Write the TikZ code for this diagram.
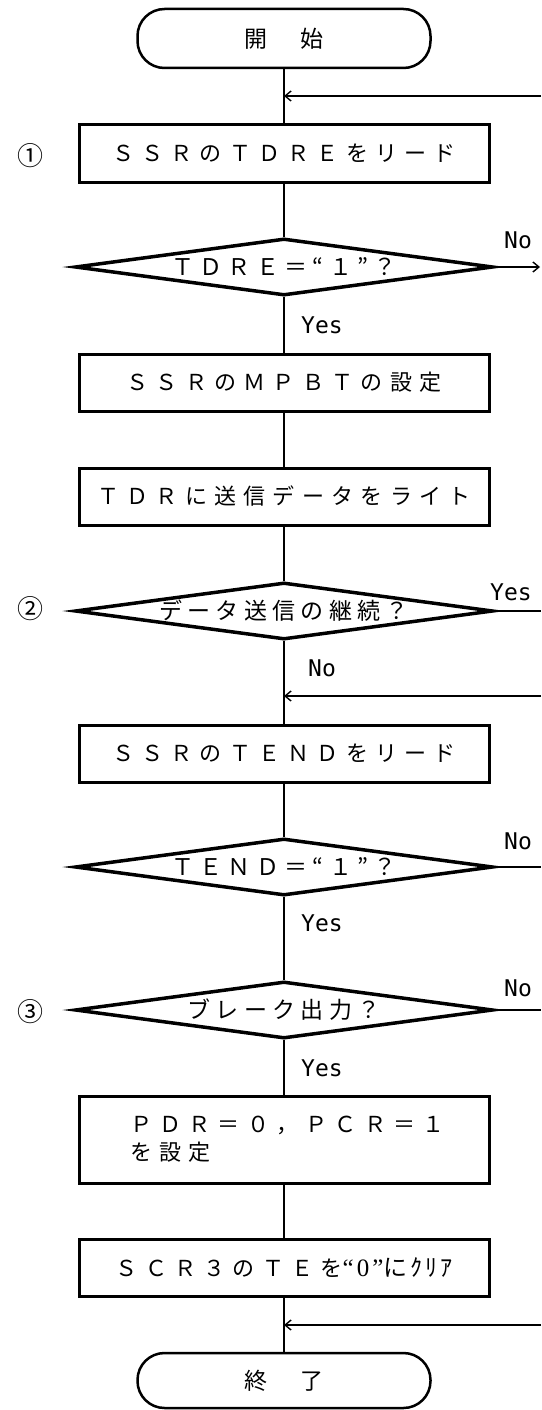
\documentclass[tikz,border=0pt]{standalone}
\usepackage{fontspec}
\newfontfamily\jp[LetterSpace=33]{Noto Sans CJK JP}
\newfontfamily\jpd[LetterSpace=23]{Noto Sans CJK JP}
\newfontfamily\jpn{Noto Sans CJK JP}
\newfontfamily\jpt[LetterSpace=12]{Noto Sans CJK JP}
\newfontfamily\qf[LetterSpace=12]{Liberation Serif}
\newfontfamily\ynf{DejaVu Sans Mono}
\usetikzlibrary{shapes.geometric,arrows.meta}
\begin{document}
\begin{tikzpicture}[x=1pt,y=-1pt,
  proc/.style={draw,line width=3pt,minimum width=410pt,minimum height=57pt,inner sep=0pt,font=\jp\fontsize{22}{28}\selectfont},
  term/.style={draw,line width=2.5pt,rounded corners=27pt,minimum width=293pt,minimum height=59pt,inner sep=0pt,font=\jpn\fontsize{23}{24}\selectfont},
  dec/.style={draw,diamond,line width=3.5pt,minimum width=418pt,minimum height=57pt,inner sep=0pt},
  dtext/.style={inner sep=0pt,font=\jpd\fontsize{23}{24}\selectfont},
  flow/.style={line width=1.4pt},
  arr/.style={flow,-{Straight Barb[length=6pt,width=10pt]}},
  yn/.style={inner sep=0pt,font=\ynf\fontsize{23}{24}\selectfont},
  circ/.style={inner sep=0pt,font=\jpn\fontsize{26}{28}\selectfont}
]
\useasboundingbox (0,0) rectangle (541,1410);
% nodes
\node[term] (start) at (284,38.5) {開\hspace{34pt}始};
\node[proc] (b1) at (284,153.5) {ＳＳＲのＴＤＲＥをリード};
\node[dec] (d1) at (284,267) {};
\node[dtext] (t1) at (284,267) {ＴＤＲＥ＝“１”？};
\node[proc] (b2) at (284,382.5) {ＳＳＲのＭＰＢＴの設定};
\node[proc] (b3) at (284,496.5) {ＴＤＲに送信データをライト};
\node[dec] (d2) at (284,611) {};
\node[dtext] (t2) at (284,611) {データ送信の継続？};
\node[proc] (b4) at (284,753.5) {ＳＳＲのＴＥＮＤをリード};
\node[dec] (d3) at (284,867) {};
\node[dtext] (t3) at (284,867) {ＴＥＮＤ＝“１”？};
\node[dec] (d4) at (284,1010) {};
\node[dtext] (t4) at (284,1010) {ブレーク出力？};
\node[proc,minimum height=87pt,text width=308pt,align=left] (b5) at (284,1139.5) {ＰＤＲ＝０，ＰＣＲ＝１\\を設定};
\node[proc] (b6) at (284,1268) {ＳＣＲ３のＴＥを{\qf\fontsize{25}{28}\selectfont “0”}{\jpt\fontsize{24}{28}\selectfont にｸﾘｱ}};
\node[term,minimum height=55pt] (end) at (284,1380.5) {終\hspace{34pt}了};
% step numbers
\node[circ] (n1) at (30,156) {①};
\node[circ] (n2) at (30,609) {②};
\node[circ] (n3) at (30,1012) {③};
% yes/no labels
\node[yn] (y1) at (322,325) {Yes};
\node[yn] (no1) at (518,240) {No};
\node[yn] (no2) at (322,668) {No};
\node[yn] (y2) at (511,592) {Yes};
\node[yn] (y3) at (322,923) {Yes};
\node[yn] (no3) at (518,841) {No};
\node[yn] (y4) at (322,1068) {Yes};
\node[yn] (no4) at (518,988) {No};
% junction coordinates
\coordinate (j1) at (284,96);
\coordinate (r1) at (541,96);
\coordinate (j2) at (284,696);
\coordinate (r2) at (541,696);
\coordinate (j3) at (284,1325);
\coordinate (r3) at (541,1325);
\coordinate (e1) at (540,267);
\coordinate (e2) at (541,611);
\coordinate (e3) at (541,867);
\coordinate (e4) at (541,1010);
% main line
\draw[flow] (start.south) -- (b1.north);
\draw[flow] (b1.south) -- (d1.north);
\draw[flow] (d1.south) -- (b2.north);
\draw[flow] (b2.south) -- (b3.north);
\draw[flow] (b3.south) -- (d2.north);
\draw[flow] (d2.south) -- (b4.north);
\draw[flow] (b4.south) -- (d3.north);
\draw[flow] (d3.south) -- (d4.north);
\draw[flow] (d4.south) -- (b5.north);
\draw[flow] (b5.south) -- (b6.north);
\draw[flow] (b6.south) -- (end.north);
% side lines
\draw[arr] (r1) -- (j1);
\draw[arr] (r2) -- (j2);
\draw[arr] (r3) -- (j3);
\draw[arr] (d1.east) -- (e1);
\draw[flow] (d2.east) -- (e2);
\draw[flow] (d3.east) -- (e3);
\draw[flow] (d4.east) -- (e4);
\end{tikzpicture}
\end{document}
